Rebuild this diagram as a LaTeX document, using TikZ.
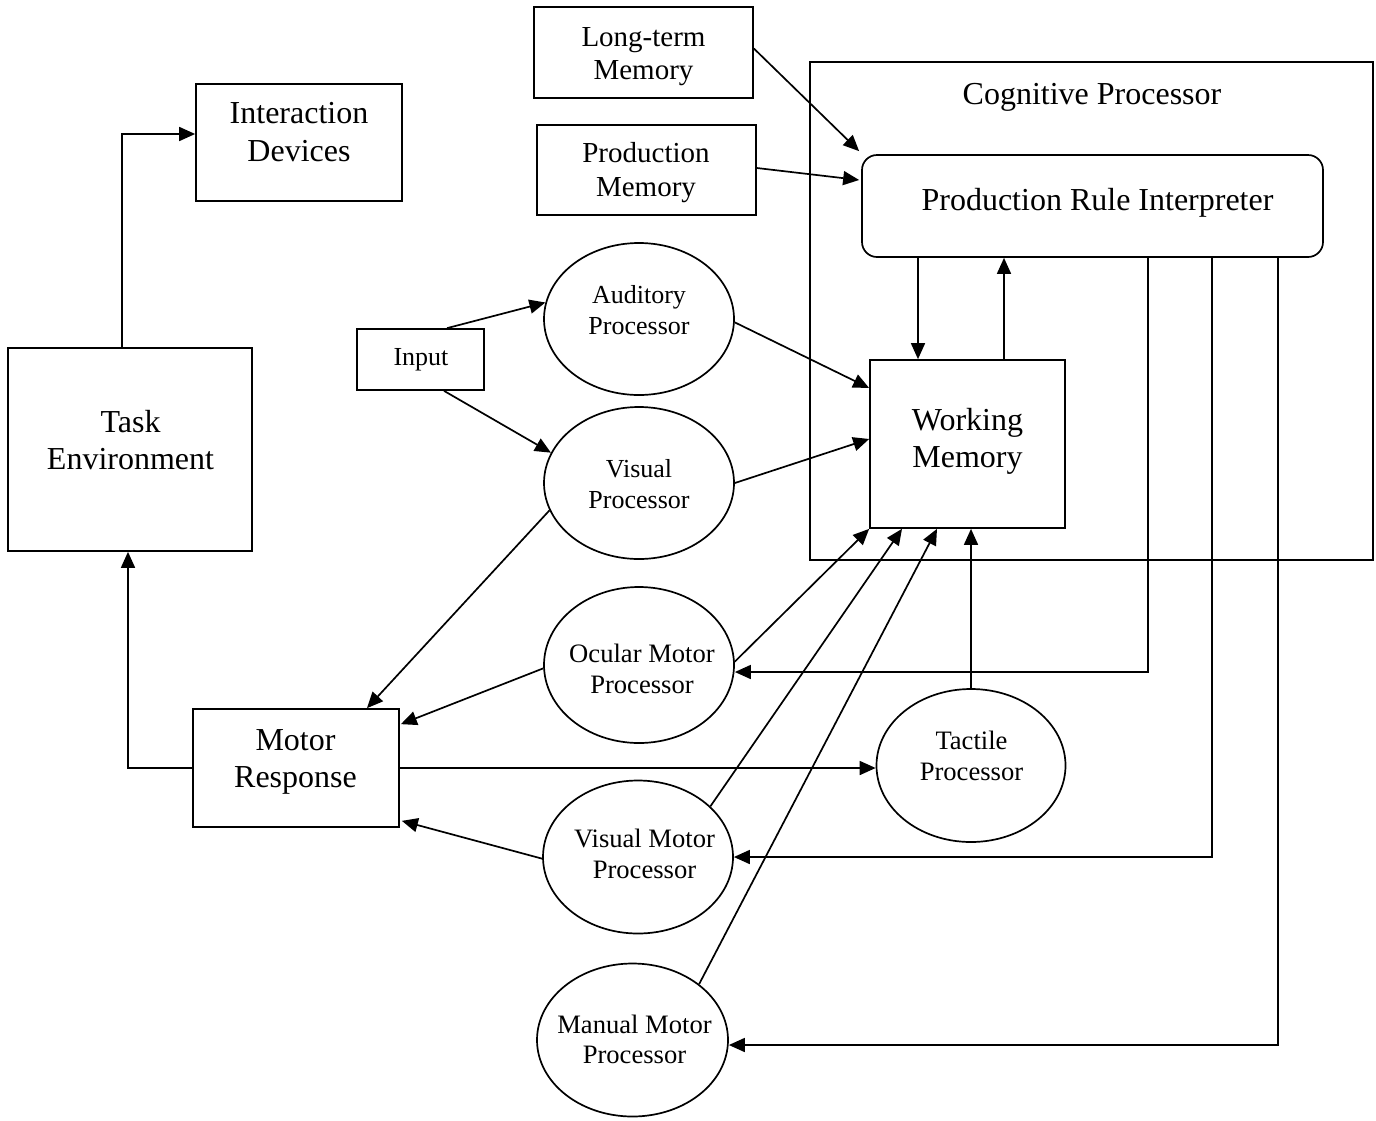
\documentclass[tikz,border=0pt]{standalone}
\usepackage{fontspec}
\setmainfont{Liberation Serif}
\usetikzlibrary{arrows.meta,shapes.geometric}
\begin{document}
\begin{tikzpicture}[x=1pt,y=-1pt,
  box/.style={draw,line width=1.7pt,inner sep=0pt},
  proc/.style={draw,ellipse,line width=1.7pt,inner sep=0pt},
  arr/.style={line width=1.7pt,-{Triangle[length=16pt,width=14pt]}},
  bigt/.style={font=\fontsize{32}{37}\selectfont,align=center,inner sep=0pt},
  smallt/.style={font=\fontsize{26}{31}\selectfont,align=center,inner sep=0pt}]
\useasboundingbox (0,0) rectangle (1376,1120);

% Cognitive processor frame
\node[box,minimum width=563pt,minimum height=498pt] (cog) at (1091.5,311) {};
\node[bigt,anchor=base] (cogT) at (1092,104) {Cognitive Processor};

% boxes
\node[box,minimum width=219pt,minimum height=91pt] (ltm) at (643.5,52.5) {};
\node[font=\fontsize{29}{33}\selectfont,align=center,inner sep=0pt] (ltmT) at (643.5,55.9) {\strut Long-term\\\strut Memory};
\node[box,minimum width=219pt,minimum height=90pt] (pm) at (646.5,170) {};
\node[font=\fontsize{29}{34.5}\selectfont,align=center,inner sep=0pt] (pmT) at (646,172.6) {\strut Production\\\strut Memory};
\node[box,rounded corners=15pt,minimum width=461pt,minimum height=102pt] (pri) at (1092.5,206) {};
\node[bigt,anchor=base] (priT) at (1097.5,210) {Production Rule Interpreter};
\node[box,minimum width=206pt,minimum height=117pt] (idev) at (299,142.5) {};
\node[bigt,font=\fontsize{32}{38}\selectfont] (idevT) at (299,134.4) {\strut Interaction\\\strut Devices};
\node[box,minimum width=244pt,minimum height=203pt] (task) at (130,449.5) {};
\node[bigt] (taskT) at (130.5,443.1) {\strut Task\\\strut Environment};
\node[box,minimum width=127pt,minimum height=61pt] (input) at (420.5,359.5) {};
\node[smallt,anchor=base] (inputT) at (421,365) {Input};
\node[box,minimum width=195pt,minimum height=168pt] (wm) at (967.5,444) {};
\node[bigt] (wmT) at (967.5,442) {\strut Working\\\strut Memory};
\node[box,minimum width=206pt,minimum height=118pt] (mr) at (296,768) {};
\node[bigt] (mrT) at (295.5,761.1) {\strut Motor\\\strut Response};

% ellipses
\node[proc,minimum width=190pt,minimum height=152pt] (aud) at (639,319) {};
\node[smallt] (audT) at (639,312.3) {\strut Auditory\\\strut Processor};
\node[proc,minimum width=190pt,minimum height=152pt] (vis) at (639,483) {};
\node[smallt] (visT) at (639,486.3) {\strut Visual\\\strut Processor};
\node[proc,minimum width=190pt,minimum height=156pt] (ocu) at (639,665) {};
\node[smallt,font=\fontsize{26.6}{31}\selectfont] (ocuT) at (642,671.3) {\strut Ocular Motor\\\strut Processor};
\node[proc,minimum width=189pt,minimum height=153pt] (tac) at (971,765.5) {};
\node[smallt,font=\fontsize{26.6}{31}\selectfont] (tacT) at (971.5,758.3) {\strut Tactile\\\strut Processor};
\node[proc,minimum width=190pt,minimum height=153pt] (vmp) at (638,857) {};
\node[smallt,font=\fontsize{26.6}{31}\selectfont] (vmpT) at (644.5,856.3) {\strut Visual Motor\\\strut Processor};
\node[proc,minimum width=191pt,minimum height=153pt] (mmp) at (632.5,1040) {};
\node[smallt,font=\fontsize{26.6}{30}\selectfont] (mmpT) at (634.5,1042) {\strut Manual Motor\\\strut Processor};

% connectors
\draw[arr] ([yshift=4pt]ltm.east) -- ([xshift=-2pt,yshift=3pt]pri.north west);
\draw[arr] ([yshift=2pt]pm.east) -- ([xshift=-2pt,yshift=26pt]pri.west);
\draw[arr] ([xshift=-49.5pt]wm.north |- pri.south) -- ([xshift=-49.5pt]wm.north);
\draw[arr] ([xshift=36.5pt]wm.north) -- ([xshift=36.5pt]wm.north |- pri.south);
\draw[arr] ([xshift=26.5pt]input.north) -- (aud.170);
\draw[arr] ([xshift=23.5pt]input.south) -- (vis.161);
\draw[arr] (aud.-2) -- ([yshift=56pt]wm.west);
\draw[arr] (vis.east) -- ([yshift=5pt]wm.west);
\draw[arr] (vis.197) -- ([xshift=71pt]mr.north);
\draw[arr] (ocu.182) -- ([xshift=1pt,yshift=-16pt]mr.north east);
\draw[arr] (vmp.181) -- ([xshift=2pt,yshift=7pt]mr.south east);
\draw[arr] (mr.east) -- (mr.east -| tac.west);
\draw[arr] (mr.west) -| ([xshift=-2pt]task.south);
\draw[arr] ([xshift=-8pt]task.north) |- ([yshift=8.5pt]idev.west);
\draw[arr] (ocu.2) -- (wm.south west);
\draw[arr] (vmp.35) -- ([xshift=-65.5pt]wm.south);
\draw[arr] (mmp.40) -- ([xshift=-30.5pt]wm.south);
\draw[arr] (tac.north) -- (tac.north |- wm.south);
\draw[arr] ([xshift=55.5pt]pri.south) |- ([yshift=-7pt]ocu.east);
\draw[arr] ([xshift=119.5pt]pri.south) |- (vmp.east);
\draw[arr] ([xshift=185.5pt]pri.south) |- ([yshift=-5pt]mmp.east);
\end{tikzpicture}
\end{document}
